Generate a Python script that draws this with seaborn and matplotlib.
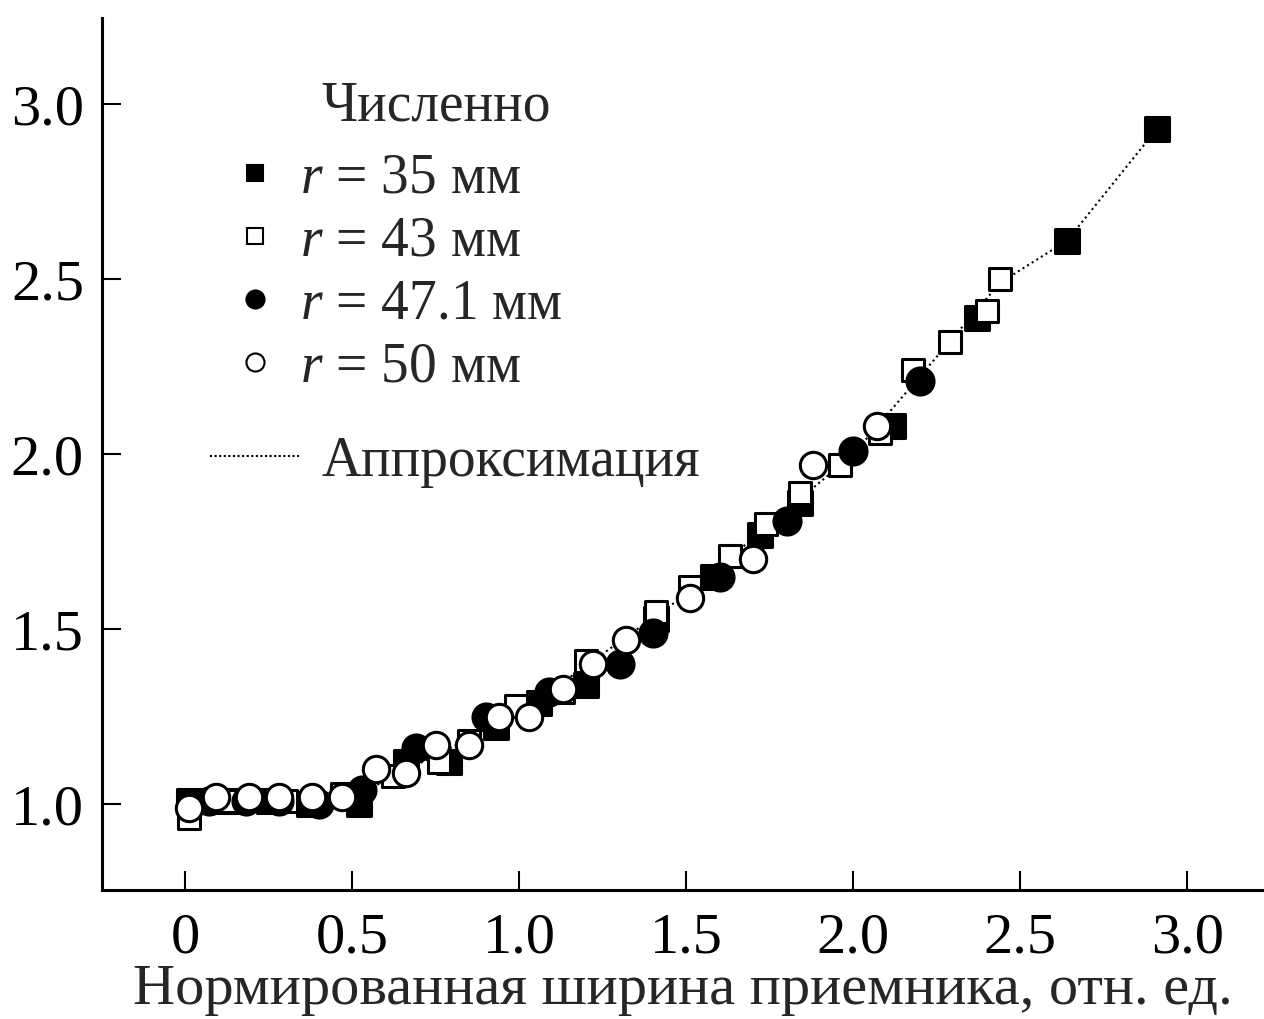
import matplotlib
matplotlib.use("Agg")
import matplotlib.pyplot as plt
import seaborn as sns
from matplotlib.lines import Line2D

# r = 35 мм (чёрные квадраты)
fs_x = [0.01, 0.12, 0.25, 0.37, 0.52, 0.66, 0.79, 0.93, 1.06, 1.20, 1.41, 1.58, 1.72, 1.84, 2.12, 2.37, 2.64, 2.91]
fs_y = [1.01, 1.01, 1.01, 1.00, 1.00, 1.12, 1.12, 1.22, 1.29, 1.34, 1.53, 1.65, 1.77, 1.86, 2.08, 2.39, 2.61, 2.93]

# r = 43 мм (светлые квадраты)
os_x = [0.01, 0.14, 0.30, 0.47, 0.62, 0.76, 0.85, 0.99, 1.13, 1.20, 1.41, 1.51, 1.63, 1.74, 1.84, 1.96, 2.08, 2.18, 2.29, 2.40, 2.44]
os_y = [0.96, 1.01, 1.01, 1.03, 1.08, 1.12, 1.18, 1.28, 1.32, 1.41, 1.55, 1.62, 1.71, 1.80, 1.89, 1.97, 2.06, 2.24, 2.32, 2.41, 2.50]

# r = 47.1 мм (чёрные круги)
fc_x = [0.07, 0.18, 0.28, 0.40, 0.53, 0.69, 0.90, 1.09, 1.30, 1.40, 1.60, 1.80, 2.00, 2.20]
fc_y = [1.01, 1.01, 1.01, 1.00, 1.04, 1.16, 1.25, 1.32, 1.40, 1.49, 1.65, 1.81, 2.01, 2.21]

# r = 50 мм (светлые круги)
oc_x = [0.01, 0.09, 0.19, 0.28, 0.38, 0.47, 0.57, 0.66, 0.75, 0.85, 0.94, 1.03, 1.13, 1.22, 1.32, 1.51, 1.70, 1.88, 2.07]
oc_y = [0.99, 1.02, 1.02, 1.02, 1.02, 1.02, 1.10, 1.09, 1.17, 1.17, 1.25, 1.25, 1.33, 1.40, 1.47, 1.59, 1.70, 1.97, 2.08]

# аппроксимация
fit_x = [0.0, 0.5, 1.0, 1.5, 2.0, 2.44, 2.64, 2.91]
fit_y = [1.0, 1.02, 1.26, 1.60, 2.0, 2.49, 2.61, 2.93]

x_ticks = [0, 0.5, 1.0, 1.5, 2.0, 2.5, 3.0]
x_ticklabels = ['0', '0.5', '1.0', '1.5', '2.0', '2.5', '3.0']
y_ticks = [1.0, 1.5, 2.0, 2.5, 3.0]

sns.set_style('ticks')
plt.rcParams['font.family'] = ['Liberation Serif', 'DejaVu Serif']
plt.rcParams['mathtext.fontset'] = 'custom'
plt.rcParams['mathtext.it'] = 'Liberation Serif:italic'
plt.rcParams['mathtext.rm'] = 'Liberation Serif'

fig = plt.figure(figsize=(12.64, 10.19), dpi=100)
ax = fig.add_axes([0.0807, 0.1266, 0.9193, 0.8557])

sns.lineplot(x=fit_x, y=fit_y, ax=ax, color='black', lw=1.5,
             linestyle=(0, (1, 1.6)), zorder=1)

lw = 2.2
sns.scatterplot(x=fs_x, y=fs_y, ax=ax, marker='s', s=300,
                facecolor='black', edgecolor='black', linewidth=lw, zorder=2)
sns.scatterplot(x=os_x, y=os_y, ax=ax, marker='s', s=260,
                facecolor='white', edgecolor='black', linewidth=lw, zorder=3)
sns.scatterplot(x=fc_x, y=fc_y, ax=ax, marker='o', s=380,
                facecolor='black', edgecolor='black', linewidth=lw, zorder=4)
sns.scatterplot(x=oc_x, y=oc_y, ax=ax, marker='o', s=360,
                facecolor='white', edgecolor='black', linewidth=lw, zorder=5)

ax.set_xlim(-0.25, 3.23)
ax.set_ylim(0.755, 3.246)
ax.set_xticks(x_ticks)
ax.set_xticklabels(x_ticklabels)
ax.set_yticks(y_ticks)
ax.tick_params(direction='in', length=14, width=1.5, labelsize=42, pad=13, colors='black')
ax.tick_params(axis='x', pad=16)
sns.despine(ax=ax)
for side in ['left', 'bottom']:
    ax.spines[side].set_linewidth(2.2)
    ax.spines[side].set_color('black')
ax.set_xlabel('Нормированная ширина приемника, отн. ед.', fontsize=42, labelpad=0)

fs = 40
ax.text(0.189, 0.898, 'Численно', transform=ax.transAxes, fontsize=fs,
        ha='left', va='center')

ms = 12
handles = [
    Line2D([], [], ls='none', marker='s', ms=ms, mfc='black', mec='black', mew=1.5),
    Line2D([], [], ls='none', marker='s', ms=ms, mfc='white', mec='black', mew=1.5),
    Line2D([], [], ls='none', marker='o', ms=ms + 1, mfc='black', mec='black', mew=1.5),
    Line2D([], [], ls='none', marker='o', ms=ms + 1, mfc='white', mec='black', mew=1.5),
]
labels = ['$r$ = 35 мм', '$r$ = 43 мм', '$r$ = 47.1 мм', '$r$ = 50 мм']
leg1 = ax.legend(handles, labels, loc='upper left',
                 bbox_to_anchor=(0.108, 0.846), frameon=False, fontsize=fs,
                 handlelength=1.0, handletextpad=0.3,
                 labelspacing=0.2, borderpad=0, borderaxespad=0)
ax.add_artist(leg1)

fit_handle = Line2D([], [], color='black', lw=1.5, linestyle=(0, (1, 1.2)))
ax.legend([fit_handle], ['Аппроксимация'], loc='upper left',
          bbox_to_anchor=(0.093, 0.521), frameon=False, fontsize=fs,
          handlelength=1.6, handletextpad=0.4, borderpad=0, borderaxespad=0)

fig.savefig('out.png', dpi=100)
